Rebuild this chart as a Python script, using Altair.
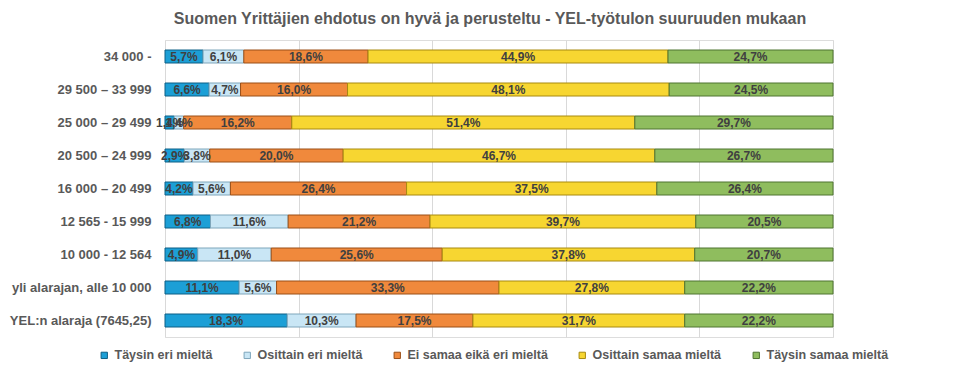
import altair as alt
import pandas as pd

categories = [
    "34 000 -",
    "29 500 – 33 999",
    "25 000 – 29 499",
    "20 500 – 24 999",
    "16 000 – 20 499",
    "12 565 - 15 999",
    "10 000 - 12 564",
    "yli alarajan, alle 10 000",
    "YEL:n alaraja (7645,25)",
]
series = [
    "Täysin eri mieltä",
    "Osittain eri mieltä",
    "Ei samaa eikä eri mieltä",
    "Osittain samaa mieltä",
    "Täysin samaa mieltä",
]
taysin_eri = [5.7, 6.6, 1.4, 2.9, 4.2, 6.8, 4.9, 11.1, 18.3]
osittain_eri = [6.1, 4.7, 1.4, 3.8, 5.6, 11.6, 11.0, 5.6, 10.3]
ei_samaa = [18.6, 16.0, 16.2, 20.0, 26.4, 21.2, 25.6, 33.3, 17.5]
osittain_samaa = [44.9, 48.1, 51.4, 46.7, 37.5, 39.7, 37.8, 27.8, 31.7]
taysin_samaa = [24.7, 24.5, 29.7, 26.7, 26.4, 20.5, 20.7, 22.2, 22.2]

colors = ["#1c9fd6", "#c9e6f5", "#f0893c", "#f7d631", "#8fbd5e"]
strokes = ["#0d5f85", "#7fa6bb", "#9a4f17", "#a88a10", "#4f7430"]

all_vals = [taysin_eri, osittain_eri, ei_samaa, osittain_samaa, taysin_samaa]
rows = []
for ci, cat in enumerate(categories):
    total = sum(v[ci] for v in all_vals)
    cum = 0.0
    for si, s in enumerate(series):
        v = all_vals[si][ci]
        start = cum / total * 100
        cum += v
        end = cum / total * 100
        rows.append({
            "cat": cat, "series": s, "order": si, "value": v,
            "start": start, "end": end, "mid": (start + end) / 2,
            "label": f"{v:.1f}%".replace(".", ","),
        })
df = pd.DataFrame(rows)

x_scale = alt.Scale(domain=[0, 100], nice=False, zero=True)
y_enc = alt.Y(
    "cat:N", sort=categories, title=None,
    scale=alt.Scale(paddingInner=0.6, paddingOuter=0.3),
    axis=alt.Axis(labelFontSize=13, labelFontWeight="bold", labelColor="#595959",
                  labelFont="Liberation Sans", labelPadding=14, ticks=False,
                  domain=False, minExtent=140, maxExtent=140, labelLimit=200),
)

bars = alt.Chart(df).mark_bar(size=13, strokeWidth=1).encode(
    x=alt.X("start:Q", scale=x_scale, title=None,
            axis=alt.Axis(values=[0, 20, 40, 60, 80, 100], labels=False, ticks=False,
                          domain=False, grid=True, gridColor="#d9d9d9", gridWidth=1)),
    x2="end:Q",
    y=y_enc,
    color=alt.Color("series:N", sort=series,
                    scale=alt.Scale(domain=series, range=colors),
                    legend=alt.Legend(title=None, orient="none", direction="horizontal",
                                      legendX=-67, legendY=309, symbolType="square",
                                      symbolSize=40, symbolStrokeWidth=1,
                                      labelFontSize=12.5, labelFontWeight="bold",
                                      labelColor="#595959",
                                      labelFont="Liberation Sans", columnPadding=28,
                                      labelLimit=250)),
    stroke=alt.Stroke("series:N", scale=alt.Scale(domain=series, range=strokes), legend=None),
    order="order:Q",
)

labels = alt.Chart(df).mark_text(fontSize=12, fontWeight="bold", color="#404040",
                                 font="Liberation Sans", baseline="middle").encode(
    x=alt.X("mid:Q", scale=x_scale),
    y=alt.Y("cat:N", sort=categories),
    text="label:N",
)

chart = alt.layer(bars, labels).properties(
    width=668, height=297,
    padding={"left": 1, "top": 3, "right": 5, "bottom": 5},
    title=alt.TitleParams(
        "Suomen Yrittäjien ehdotus on hyvä ja perusteltu - YEL-työtulon suuruuden mukaan",
        fontSize=16, fontWeight="bold", color="#595959", font="Liberation Sans",
        anchor="middle", offset=13, dx=-9),
).configure_view(stroke=None).configure(background="white")

chart.save("out.html", embed_options={"renderer": "svg", "actions": False})
